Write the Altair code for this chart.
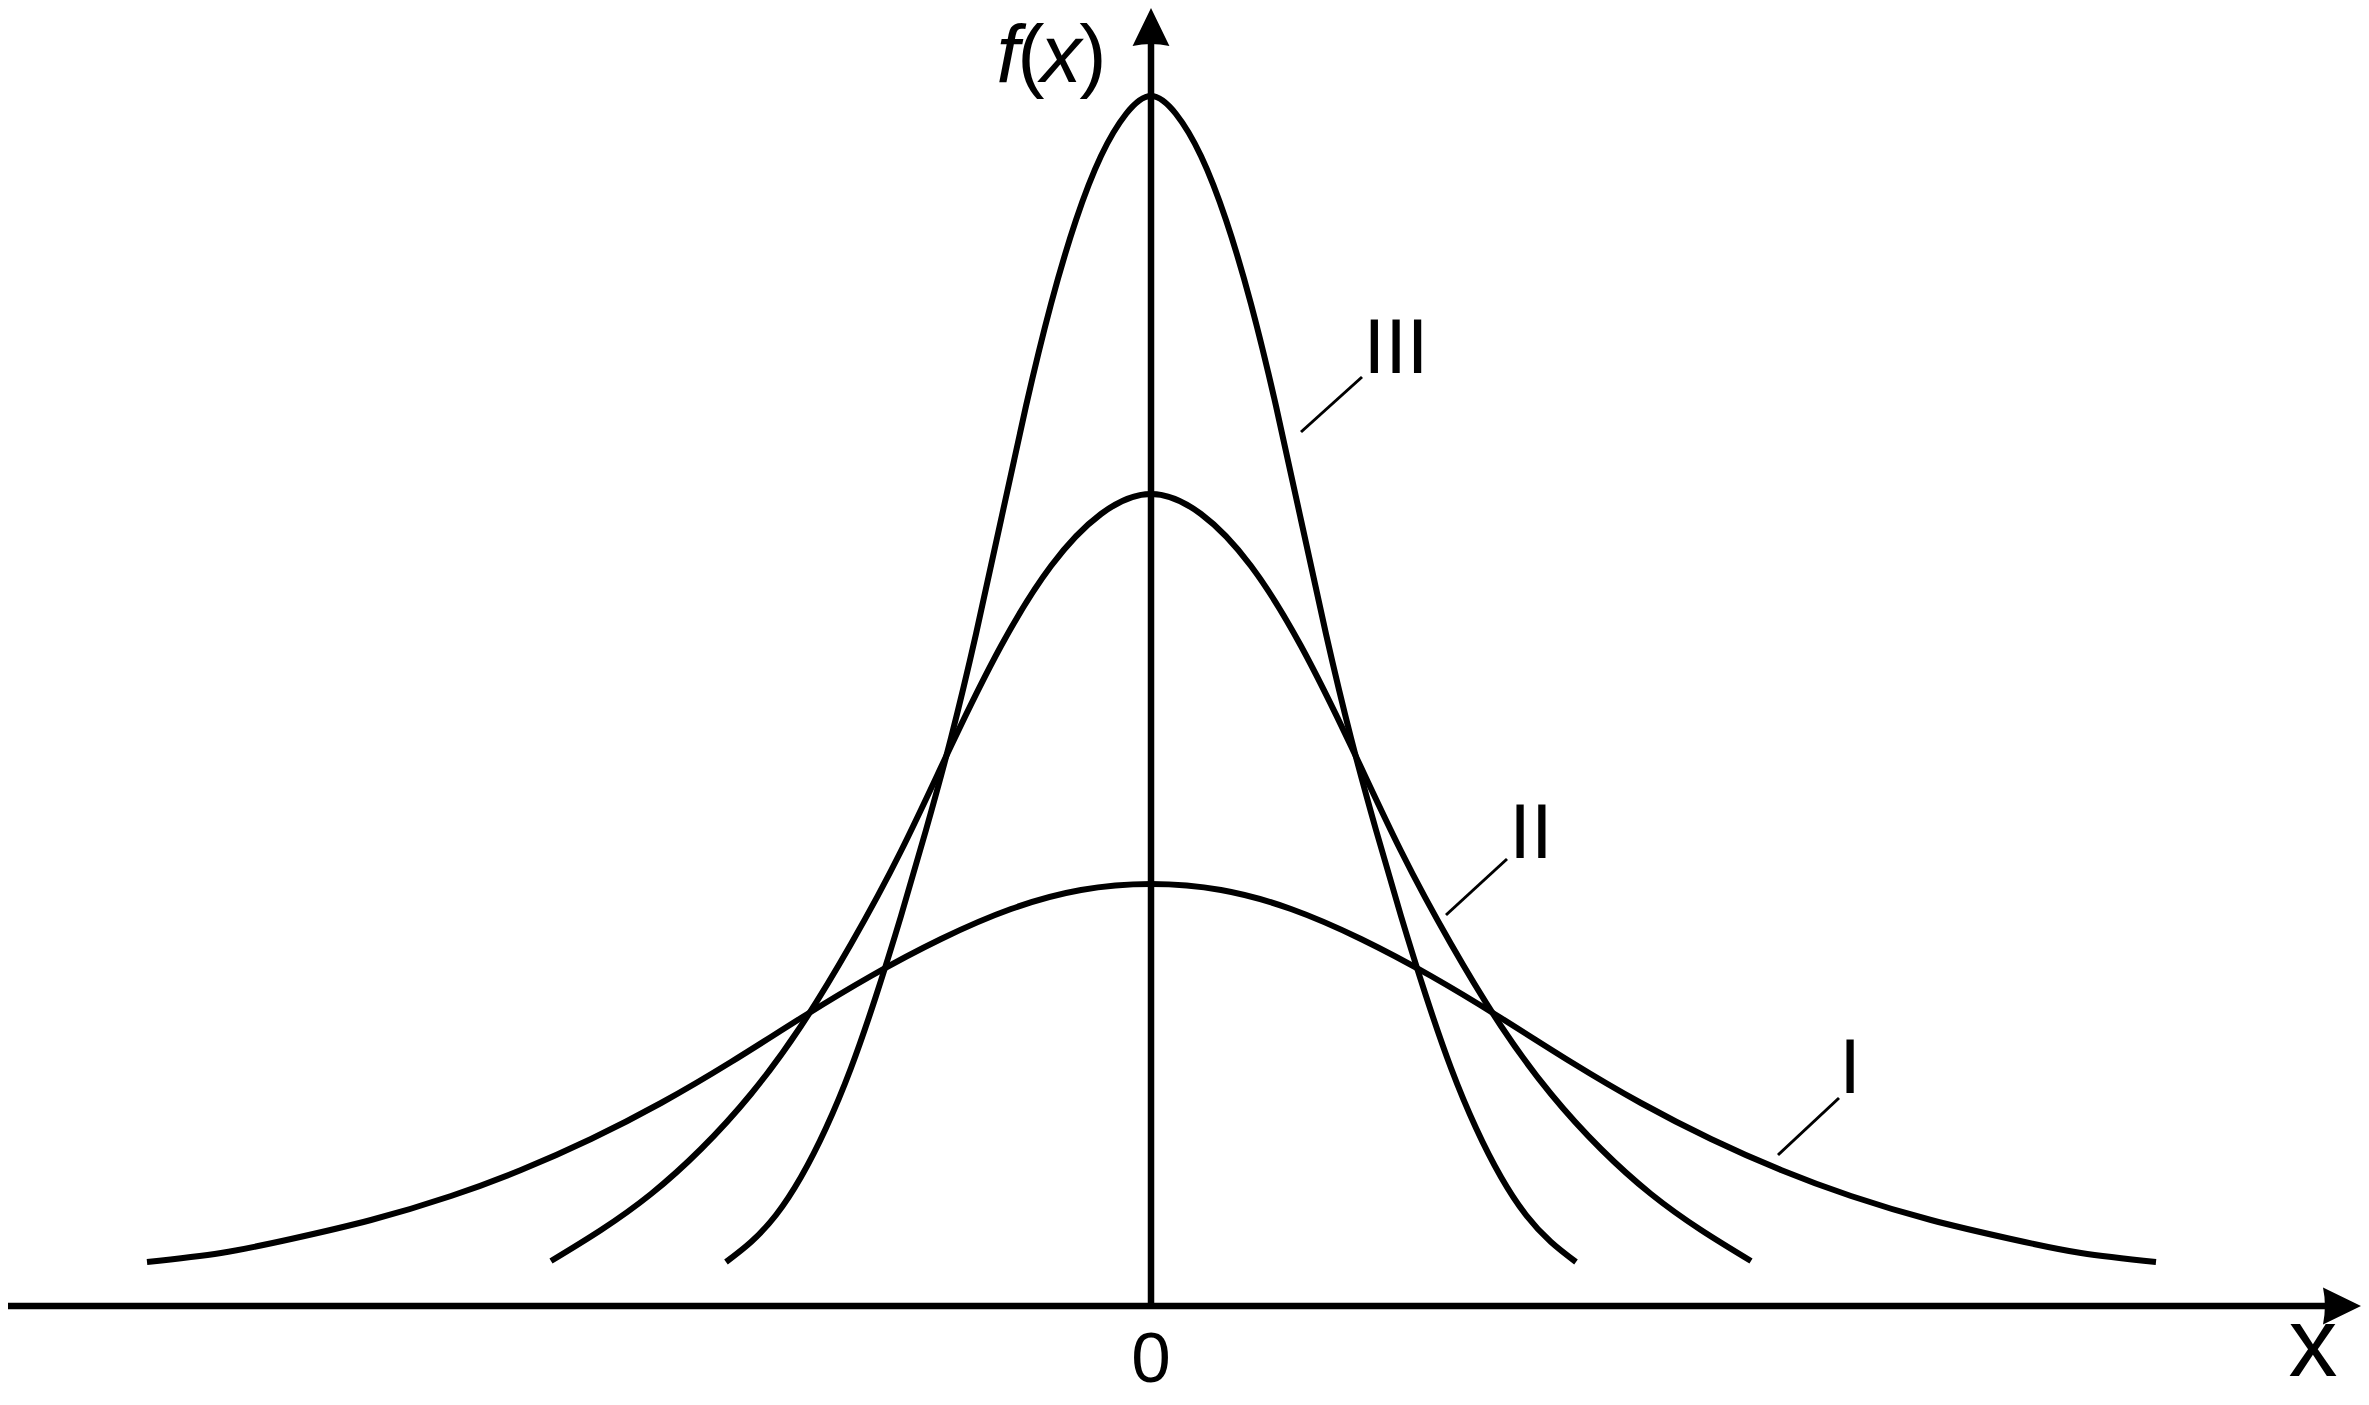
import altair as alt
import pandas as pd

# ---- values (x and f(x) in arbitrary units) ----
x_I = [-10.04, -9.3, -8.6, -7.8, -7.0, -6.3, -5.6, -4.9, -4.2, -3.5, -2.8, -2.1, -1.4, -0.7, 0.0,
       0.7, 1.4, 2.1, 2.8, 3.5, 4.2, 4.9, 5.6, 6.3, 7.0, 7.8, 8.6, 9.3, 10.05]
y_I = [0.44, 0.53, 0.67, 0.86, 1.10, 1.36, 1.67, 2.03, 2.44, 2.88, 3.30, 3.67, 3.97, 4.16, 4.22,
       4.16, 3.97, 3.67, 3.30, 2.88, 2.44, 2.03, 1.67, 1.36, 1.10, 0.86, 0.67, 0.53, 0.44]

x_II = [-6.0, -5.5, -5.0, -4.5, -4.0, -3.5, -3.0, -2.5, -2.0, -1.5, -1.0, -0.5, 0.0,
        0.5, 1.0, 1.5, 2.0, 2.5, 3.0, 3.5, 4.0, 4.5, 5.0, 5.5, 6.0]
y_II = [0.45, 0.76, 1.12, 1.57, 2.12, 2.80, 3.62, 4.55, 5.60, 6.60, 7.40, 7.92, 8.12,
        7.92, 7.40, 6.60, 5.60, 4.55, 3.62, 2.80, 2.12, 1.57, 1.12, 0.76, 0.45]

x_III = [-4.25, -4.0, -3.75, -3.5, -3.25, -3.0, -2.75, -2.5, -2.25, -2.0, -1.75, -1.5, -1.25, -1.0, -0.75,
         -0.5, -0.25, 0.0, 0.25, 0.5, 0.75, 1.0, 1.25, 1.5, 1.75, 2.0, 2.25, 2.5, 2.75, 3.0, 3.25,
         3.5, 3.75, 4.0, 4.25]
y_III = [0.44, 0.64, 0.91, 1.29, 1.78, 2.38, 3.10, 3.90, 4.76, 5.68, 6.72, 7.86, 9.00, 10.02, 10.86,
         11.50, 11.92, 12.10, 11.92, 11.50, 10.86, 10.02, 9.00, 7.86, 6.72, 5.68, 4.76, 3.90, 3.10, 2.38, 1.78,
         1.29, 0.91, 0.64, 0.44]

curve_names = ["I", "II", "III"]
label_x = [6.99, 3.80, 2.45]
label_y = [2.13, 4.48, 9.33]
leader_x = [6.88, 3.56, 2.11]
leader_y = [2.08, 4.47, 9.29]
leader_x2 = [6.27, 2.95, 1.50]
leader_y2 = [1.51, 3.91, 8.74]

X_DOMAIN = [-11.43, 12.10]
Y_DOMAIN = [-0.91, 12.98]
x_axis_end = 11.91
y_axis_end = 12.79

FONT = "Liberation Sans"

xs = alt.Scale(domain=X_DOMAIN, nice=False, zero=False)
ys = alt.Scale(domain=Y_DOMAIN, nice=False, zero=False)


def X(field="x"):
    return alt.X(f"{field}:Q", scale=xs, axis=None)


def Y(field="y"):
    return alt.Y(f"{field}:Q", scale=ys, axis=None)


curves = pd.concat([
    pd.DataFrame({"x": x_I, "y": y_I, "curve": "I"}),
    pd.DataFrame({"x": x_II, "y": y_II, "curve": "II"}),
    pd.DataFrame({"x": x_III, "y": y_III, "curve": "III"}),
], ignore_index=True)

lines = alt.Chart(curves).mark_line(
    color="black", strokeWidth=6, interpolate="natural", strokeCap="butt"
).encode(x=X(), y=Y(), detail="curve:N")

axes_df = pd.DataFrame({
    "x": [X_DOMAIN[0], 0.0], "x2": [x_axis_end, 0.0],
    "y": [0.0, 0.0], "y2": [0.0, y_axis_end],
})
axes = alt.Chart(axes_df).mark_rule(color="black", strokeWidth=6.5).encode(
    x=X(), x2="x2:Q", y=Y(), y2="y2:Q"
)

ARROW = "M0,-1L0.97,1Q0,0.8,-0.97,1Z"
arrow_up = alt.Chart(pd.DataFrame({"x": [0.0], "y": [y_axis_end]})).mark_point(
    shape=ARROW, filled=True, color="black", opacity=1, size=1444, strokeWidth=0
).encode(x=X(), y=Y())
arrow_right = alt.Chart(pd.DataFrame({"x": [x_axis_end], "y": [0.0]})).mark_point(
    shape=ARROW, filled=True, color="black", opacity=1, size=1444, strokeWidth=0, angle=90
).encode(x=X(), y=Y())

leaders_df = pd.DataFrame({"x": leader_x, "y": leader_y, "x2": leader_x2, "y2": leader_y2})
leaders = alt.Chart(leaders_df).mark_rule(color="black", strokeWidth=3).encode(
    x=X(), x2="x2:Q", y=Y(), y2="y2:Q"
)

labels_df = pd.DataFrame({"x": label_x, "y": label_y, "text": curve_names})
labels = alt.Chart(labels_df).mark_text(
    font=FONT, fontSize=78, align="center", baseline="alphabetic", color="black"
).encode(x=X(), y=Y(), text="text:N")

zero_lbl = alt.Chart(pd.DataFrame({"x": [0.0], "y": [-0.76], "text": ["0"]})).mark_text(
    font=FONT, fontSize=71, align="center", baseline="alphabetic", color="black"
).encode(x=X(), y=Y(), text="text:N")

x_lbl = alt.Chart(pd.DataFrame({"x": [11.62], "y": [-0.70], "text": ["x"]})).mark_text(
    font=FONT, fontSize=98, align="center", baseline="alphabetic", color="black"
).encode(x=X(), y=Y(), text="text:N")

fx_df = pd.DataFrame({
    "x": [-1.43, -1.20, -0.90, -0.58], "y": [12.24] * 4,
    "text": ["f", "(", "x", ")"], "style": ["italic", "normal", "italic", "normal"],
})
fx_italic = alt.Chart(fx_df[fx_df["style"] == "italic"]).mark_text(
    font=FONT, fontSize=82, fontStyle="italic", align="center", baseline="alphabetic", color="black"
).encode(x=X(), y=Y(), text="text:N")
fx_normal = alt.Chart(fx_df[fx_df["style"] == "normal"]).mark_text(
    font=FONT, fontSize=82, align="center", baseline="alphabetic", color="black"
).encode(x=X(), y=Y(), text="text:N")

chart = alt.layer(
    axes, lines, arrow_up, arrow_right, leaders, labels, zero_lbl, x_lbl, fx_italic, fx_normal
).properties(
    width=2353, height=1389, autosize="none", padding=0, background="white"
).configure_view(stroke=None)

chart.save("out.html", embed_options={"renderer": "svg", "actions": False})
